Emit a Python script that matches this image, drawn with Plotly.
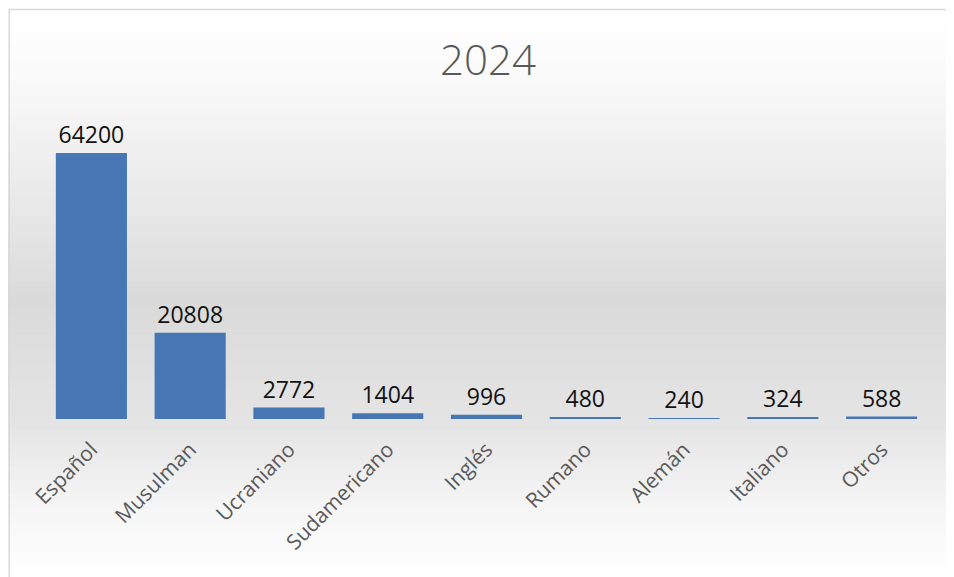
import plotly.graph_objects as go

categories = ["Español", "Musulman", "Ucraniano", "Sudamericano", "Inglés",
              "Rumano", "Alemán", "Italiano", "Otros"]
values = [64200, 20808, 2772, 1404, 996, 480, 240, 324, 588]
title_text = "2024"

OFF = 8  # page body margin offset
W, H = 954 - OFF, 577 - OFF
# plot area in reference pixel coords
PL, PR, PT, PB = 41.5, 931.5, 129, 419
L, R, T, B = PL - OFF, 954 - PR, PT - OFF, 577 - PB

def px_to_paper_x(px):
    return (px - PL) / (PR - PL)

def px_to_paper_y(py):
    return (PB - py) / (PB - PT)

# background gradient stops (reference pixel y, gray level)
stops = [(9, 255), (80, 250), (180, 236), (300, 218), (420, 228), (500, 244), (577, 255)]

def gray_at(y):
    for (y0, g0), (y1, g1) in zip(stops[:-1], stops[1:]):
        if y0 <= y <= y1:
            t = (y - y0) / (y1 - y0)
            return g0 + (g1 - g0) * t
    return stops[-1][1]

shapes = []
n = 80
y_top, y_bot = 9, 580
step = (y_bot - y_top) / n
for i in range(n):
    ya = y_top + i * step
    yb = ya + step + 0.6
    g = int(round(gray_at(ya + step / 2)))
    shapes.append(dict(
        type="rect", xref="paper", yref="paper", layer="below",
        x0=px_to_paper_x(3), x1=px_to_paper_x(960),
        y0=px_to_paper_y(yb), y1=px_to_paper_y(ya),
        line=dict(width=0), fillcolor=f"rgb({g},{g},{g})"))

# outer border
shapes.append(dict(
    type="rect", xref="paper", yref="paper", layer="above",
    x0=px_to_paper_x(8.7), x1=px_to_paper_x(965),
    y0=px_to_paper_y(590), y1=px_to_paper_y(9.5),
    line=dict(width=1.5, color="#d9d9d9"), fillcolor="rgba(0,0,0,0)"))

fig = go.Figure()
fig.add_trace(go.Bar(
    x=categories, y=values,
    marker=dict(color="#4677b4", line=dict(width=0)),
    text=[str(v) for v in values], textposition="outside",
    textfont=dict(family="Open Sans", size=23, color="#111111"),
    cliponaxis=False, width=0.72,
))

fig.update_layout(
    width=W, height=H,
    margin=dict(l=L, r=R, t=T, b=B, pad=0),
    paper_bgcolor="white", plot_bgcolor="rgba(0,0,0,0)",
    showlegend=False,
    shapes=shapes,
    title=dict(text=title_text, x=(488 - OFF) / W, xanchor="center",
               y=1 - (60 - OFF) / H, yanchor="middle",
               font=dict(family="Open Sans", size=42, color="#595959", weight=300)),
)
fig.update_xaxes(
    tickangle=-45, showgrid=False, showline=False, zeroline=False,
    ticks="outside", ticklen=9, tickcolor="rgba(0,0,0,0)",
    tickfont=dict(family="Open Sans", size=21, color="#595959"),
    range=[-0.5, 8.5],
)
fig.update_yaxes(range=[0, 70000], visible=False, showgrid=False, zeroline=False)

fig.write_html("out.html")
